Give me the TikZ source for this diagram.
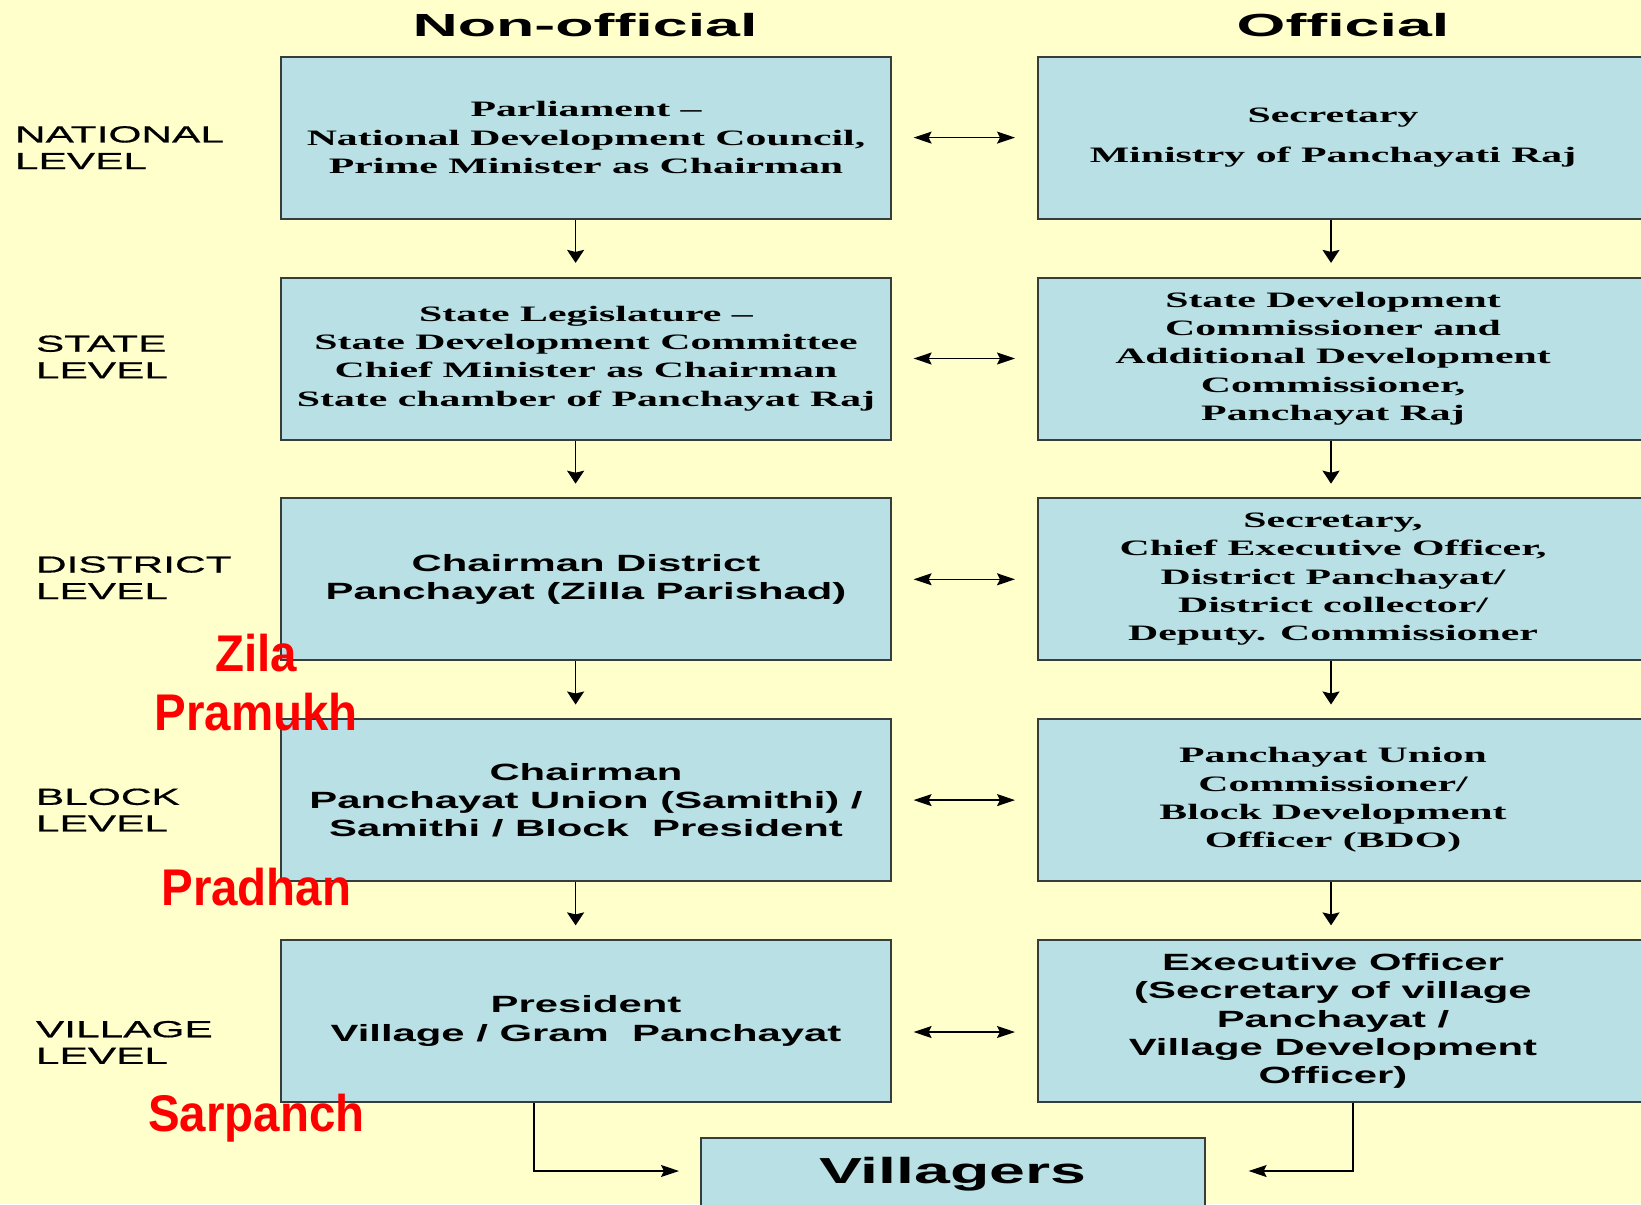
\documentclass[tikz,border=0pt]{standalone}
\usepackage{fontspec}
\usetikzlibrary{arrows.meta}
\newfontfamily\wsans[FakeStretch=1.78]{Liberation Sans}
\newfontfamily\lsans[FakeStretch=1.82,FakeBold=0.6]{Liberation Sans}
\newfontfamily\tsans[FakeStretch=1.96]{Liberation Sans}
\newfontfamily\wserif[FakeStretch=1.9]{Liberation Serif}
\newfontfamily\nsans[FakeStretch=0.92]{Liberation Sans}
\definecolor{bgyellow}{RGB}{255,255,204}
\definecolor{boxfill}{RGB}{185,224,228}
\definecolor{boxline}{RGB}{55,60,60}
\definecolor{redlbl}{RGB}{255,0,0}
\begin{document}
\begin{tikzpicture}[x=0.5pt,y=-0.5pt,
  lbox/.style={draw=boxline, line width=1pt, fill=boxfill, minimum width=304.6pt,
    minimum height=81pt, inner sep=0pt, align=center},
  rbox/.style={draw=boxline, line width=1pt, fill=boxfill, minimum width=311.5pt,
    minimum height=81pt, inner sep=0pt, anchor=west},
  sertxt/.style={font=\wserif\bfseries\fontsize{11}{14.15}\selectfont, align=center, inner sep=0pt},
  santxt/.style={font=\wsans\bfseries\fontsize{11.75}{14.15}\selectfont, align=center, inner sep=0pt},
  lvl/.style={font=\lsans\fontsize{11.65}{13.3}\selectfont, align=left, anchor=west, inner sep=0pt},
  ttl/.style={font=\tsans\bfseries\fontsize{16}{18}\selectfont, anchor=base, inner sep=0pt},
  redt/.style={font=\nsans\bfseries\fontsize{25.8}{28}\selectfont, text=redlbl, anchor=base, inner sep=0pt},
  varr/.style={line width=0.8pt, -{Stealth[length=6.5pt,width=8.5pt,inset=1pt]}},
  harr/.style={line width=0.7pt, -{Stealth[length=9pt,width=6pt,inset=1.5pt]}},
  darr/.style={line width=0.7pt, {Stealth[length=9pt,width=6pt,inset=1.5pt]}-{Stealth[length=9pt,width=6pt,inset=1.5pt]}}
]
\fill[bgyellow] (0,0) rectangle (1641,1204);
\useasboundingbox (0,0) rectangle (1641,1204);

% titles
\node[ttl] (tno) at (585,36.7) {Non-official};
\node[ttl] (tof) at (1343,36.7) {Official};

% level labels
\node[lvl] (lv1) at (14.6,147.6) {NATIONAL\\LEVEL};
\node[lvl] (lv2) at (35.6,356.9) {STATE\\LEVEL};
\node[lvl] (lv3) at (35.6,577.7) {DISTRICT\\LEVEL};
\node[lvl] (lv4) at (35.6,810) {BLOCK\\LEVEL};
\node[lvl] (lv5) at (35.6,1042.4) {VILLAGE\\LEVEL};

% left column
\node[lbox, sertxt] (l1) at (586,137.6) {Parliament –\\National Development Council,\\Prime Minister as Chairman};
\node[lbox, sertxt] (l2) at (586,358.5) {State Legislature –\\State Development Committee\\Chief Minister as Chairman\\State chamber of Panchayat Raj};
\node[lbox, santxt] (l3) at (586,579.3) {Chairman District\\Panchayat (Zilla Parishad)};
\node[lbox, santxt] (l4) at (586,800.1) {Chairman\\Panchayat Union (Samithi) /\\Samithi / Block\ \ President};
\node[lbox, santxt] (l5) at (586,1021) {President\\Village / Gram\ \ Panchayat};

% right column boxes
\node[rbox] (r1) at (1037,137.6) {};
\node[rbox] (r2) at (1037,358.5) {};
\node[rbox] (r3) at (1037,579.3) {};
\node[rbox] (r4) at (1037,800.1) {};
\node[rbox] (r5) at (1037,1021) {};
\node[sertxt, font=\wserif\bfseries\fontsize{11}{20.45}\selectfont] (r1t) at (1333,137.6) {Secretary\\Ministry of Panchayati Raj};
\node[sertxt] (r2t) at (1333,358.5) {State Development\\Commissioner and\\Additional Development\\Commissioner,\\Panchayat Raj};
\node[sertxt] (r3t) at (1333,579.3) {Secretary,\\Chief Executive Officer,\\District Panchayat/\\District collector/\\Deputy. Commissioner};
\node[sertxt] (r4t) at (1333,800.1) {Panchayat Union\\Commissioner/\\Block Development\\Officer (BDO)};
\node[santxt] (r5t) at (1333,1021) {Executive Officer\\(Secretary of village\\Panchayat /\\Village Development\\Officer)};

% villagers
\node[draw=boxline, line width=1pt, fill=boxfill, minimum width=251.8pt, minimum height=36pt,
  inner sep=0pt, font=\wsans\bfseries\fontsize{18.1}{20}\selectfont] (vil) at (952.8,1174) {Villagers};

% red labels
\node[redt] (zila) at (256.4,671.7) {Zila};
\node[redt] (pramukh) at (256.4,730) {Pramukh};
\node[redt] (pradhan) at (256.4,905) {Pradhan};
\node[redt] (sarpanch) at (256.4,1131) {Sarpanch};

% vertical arrows
\foreach \a/\b in {1/2,2/3,3/4,4/5}{
  \draw[varr] ([xshift=-5.2pt]l\a.south) -- ([xshift=-5.2pt,yshift=6.8pt]l\b.north);
  \draw[varr] ([xshift=-9.25pt]r\a.south) -- ([xshift=-9.25pt,yshift=6.8pt]r\b.north);
}
% horizontal double arrows
\foreach \a in {1,2,3,4}{
  \draw[darr] ([xshift=11pt]l\a.east) -- ([xshift=-11pt]r\a.west);
}
\draw[darr] ([xshift=11pt,yshift=-5.5pt]l5.east) -- ([xshift=-11pt,yshift=-5.5pt]r5.west);

% to villagers
\draw[harr] ([xshift=-26pt]l5.south) |- ([xshift=-10.5pt,yshift=1.5pt]vil.west);
\draw[harr] ([xshift=1.75pt]r5.south) |- ([xshift=21.5pt,yshift=1.5pt]vil.east);
\end{tikzpicture}
\end{document}
